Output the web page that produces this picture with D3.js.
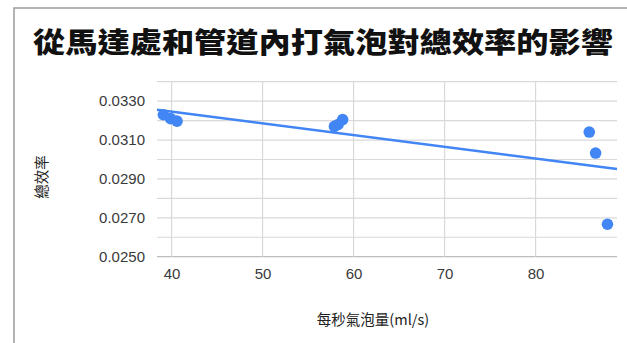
<!DOCTYPE html>
<html>
<head>
<meta charset="utf-8">
<script src="https://cdn.jsdelivr.net/npm/d3@7"></script>
<style>
  html, body { margin: 0; padding: 0; background: #fff; }
  svg { display: block; }
</style>
</head>
<body>
<svg id="chart" width="627" height="343"></svg>
<script>
// Bubble flow rate (ml/s) vs. overall efficiency
const flowRate   = [39.1, 39.9, 40.6, 57.9, 58.3, 58.8, 85.9, 86.6, 87.9];
const efficiency = [0.0323, 0.0321, 0.03197, 0.0317, 0.0318, 0.03205, 0.03141, 0.03033, 0.02667];

// Linear trendline end points (x, y)
const trendX = [38.4, 88.95];
const trendY = [0.03256, 0.02951];

const xTicks = [40, 50, 60, 70, 80];
const yLabelTicks = [0.025, 0.027, 0.029, 0.031, 0.033];
const yGridTicks = [0.025, 0.026, 0.027, 0.028, 0.029, 0.030, 0.031, 0.032, 0.033, 0.034];

const title = "從馬達處和管道內打氣泡對總效率的影響";
const xTitle = "每秒氣泡量(ml/s)";
const yTitle = "總效率";

const svg = d3.select("#chart");
const W = 627, H = 343;
const plot = { left: 157, right: 617, top: 81.7, bottom: 256.7 };

const x = d3.scaleLinear().domain([38.4, 88.95]).range([plot.left, plot.right]);
const y = d3.scaleLinear().domain([0.025, 0.034]).range([plot.bottom, plot.top]);

const blue = "#4285f4";
const tickFont = "'Liberation Sans', Arial, sans-serif";
const cjkFont = "'Noto Sans CJK TC', 'Noto Sans CJK SC', sans-serif";

// frame around the chart
svg.append("rect")
  .attr("x", 14).attr("y", 8)
  .attr("width", W).attr("height", H)
  .attr("fill", "#fff")
  .attr("stroke", "#9a9a9a")
  .attr("stroke-width", 1.5);

// title
svg.append("text")
  .attr("x", 33).attr("y", 53)
  .attr("textLength", 580)
  .attr("lengthAdjust", "spacingAndGlyphs")
  .attr("font-family", cjkFont)
  .attr("font-weight", 900)
  .attr("font-size", 28)
  .attr("fill", "#111")
  .text(title);

// horizontal gridlines
svg.append("g")
  .selectAll("line")
  .data(yGridTicks)
  .join("line")
  .attr("x1", plot.left).attr("x2", plot.right)
  .attr("y1", d => y(d)).attr("y2", d => y(d))
  .attr("stroke", d => d === 0.025 ? "#bdbdbd" : "#d9d9d9")
  .attr("stroke-width", 1.2);

// vertical gridlines
svg.append("g")
  .selectAll("line")
  .data(xTicks)
  .join("line")
  .attr("x1", d => x(d)).attr("x2", d => x(d))
  .attr("y1", plot.top).attr("y2", plot.bottom)
  .attr("stroke", "#d9d9d9")
  .attr("stroke-width", 1.2);

// y axis labels
const yAxis = d3.axisLeft(y)
  .tickValues(yLabelTicks)
  .tickFormat(d3.format(".4f"))
  .tickSize(0)
  .tickPadding(0);
const gy = svg.append("g")
  .attr("transform", `translate(145,0)`)
  .call(yAxis);
gy.select(".domain").remove();
gy.selectAll("text")
  .attr("font-family", tickFont)
  .attr("font-size", 15)
  .attr("fill", "#3a3a3a");

// x axis labels
const xAxis = d3.axisBottom(x)
  .tickValues(xTicks)
  .tickFormat(d3.format("d"))
  .tickSize(0)
  .tickPadding(0);
const gx = svg.append("g")
  .attr("transform", `translate(0,${plot.bottom + 12})`)
  .call(xAxis);
gx.select(".domain").remove();
gx.selectAll("text")
  .attr("font-family", tickFont)
  .attr("font-size", 15)
  .attr("fill", "#3a3a3a");

// axis titles
svg.append("text")
  .attr("x", 373).attr("y", 325)
  .attr("text-anchor", "middle")
  .attr("font-family", cjkFont)
  .attr("font-size", 14.5)
  .attr("fill", "#222")
  .text(xTitle);

svg.append("text")
  .attr("transform", "translate(47,177) rotate(-90)")
  .attr("text-anchor", "middle")
  .attr("font-family", cjkFont)
  .attr("font-size", 14.5)
  .attr("fill", "#222")
  .text(yTitle);

// trendline
svg.append("line")
  .attr("x1", x(trendX[0])).attr("y1", y(trendY[0]))
  .attr("x2", x(trendX[1])).attr("y2", y(trendY[1]))
  .attr("stroke", blue)
  .attr("stroke-width", 2.4);

// data points
svg.append("g")
  .selectAll("circle")
  .data(flowRate.map((v, i) => [v, efficiency[i]]))
  .join("circle")
  .attr("cx", d => x(d[0]))
  .attr("cy", d => y(d[1]))
  .attr("r", 5.8)
  .attr("fill", blue);
</script>
</body>
</html>
